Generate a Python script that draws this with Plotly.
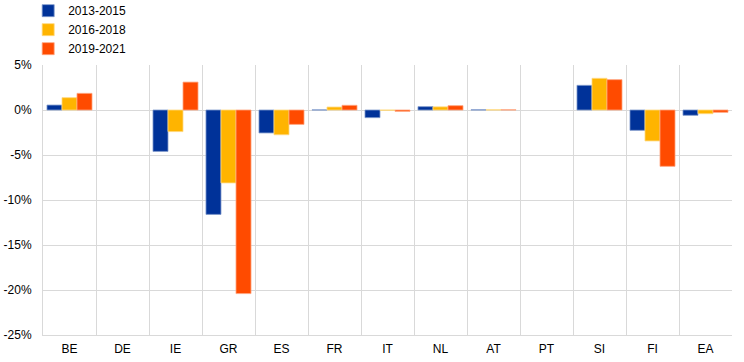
import plotly.graph_objects as go

categories = ["BE", "DE", "IE", "GR", "ES", "FR", "IT", "NL", "AT", "PT", "SI", "FI", "EA"]
series_names = ["2013-2015", "2016-2018", "2019-2021"]
v_2013_2015 = [0.55, None, -4.6, -11.6, -2.55, 0.01, -0.85, 0.37, 0.02, None, 2.74, -2.26, -0.59]
v_2016_2018 = [1.37, None, -2.4, -8.1, -2.75, 0.33, -0.03, 0.35, 0.02, None, 3.52, -3.44, -0.41]
v_2019_2021 = [1.85, None, 3.1, -20.4, -1.6, 0.52, -0.15, 0.48, 0.02, None, 3.37, -6.26, -0.26]
y_tickvals = [5, 0, -5, -10, -15, -20, -25]
y_ticktext = ["5%", "0%", "-5%", "-10%", "-15%", "-20%", "-25%"]

colors = ["#003299", "#FFB400", "#FF4B00"]
edge = ["#7f99cc", "#ffd980", "#ffa57f"]

fig = go.Figure()
for name, vals, c, e in zip(series_names, [v_2013_2015, v_2016_2018, v_2019_2021], colors, edge):
    fig.add_trace(go.Bar(x=categories, y=vals, name=name,
                         marker=dict(color=c, line=dict(color=e, width=0.8))))

grid = "#d9d9d9"
fig.update_layout(
    width=744, height=362,
    margin=dict(l=43, r=12, t=65, b=27, autoexpand=False),
    paper_bgcolor="white", plot_bgcolor="white",
    barmode="group", bargap=0.15, bargroupgap=0,
    font=dict(family="Arial, Liberation Sans, sans-serif", size=12, color="black"),
    showlegend=True,
    legend=dict(x=-0.0215, y=1.255, xanchor="left", yanchor="top",
                font=dict(size=12), tracegroupgap=0, itemwidth=30,
                bgcolor="rgba(0,0,0,0)"),
    xaxis=dict(type="category", tickson="boundaries", showgrid=True, gridcolor=grid,
               gridwidth=1, showline=True, linecolor=grid, linewidth=1,
               ticks="", mirror=False, ticklabelstandoff=3, tickfont=dict(size=12)),
    yaxis=dict(range=[-25, 5], tickvals=y_tickvals, ticktext=y_ticktext,
               showgrid=True, gridcolor=grid, gridwidth=1, zeroline=True,
               zerolinecolor=grid, zerolinewidth=1, showline=True, linecolor=grid,
               linewidth=1, ticks="", ticklabelstandoff=8, tickfont=dict(size=12)),
)
fig.write_html("out.html", config={"displayModeBar": False},
               post_script="document.body.style.margin='0';")
